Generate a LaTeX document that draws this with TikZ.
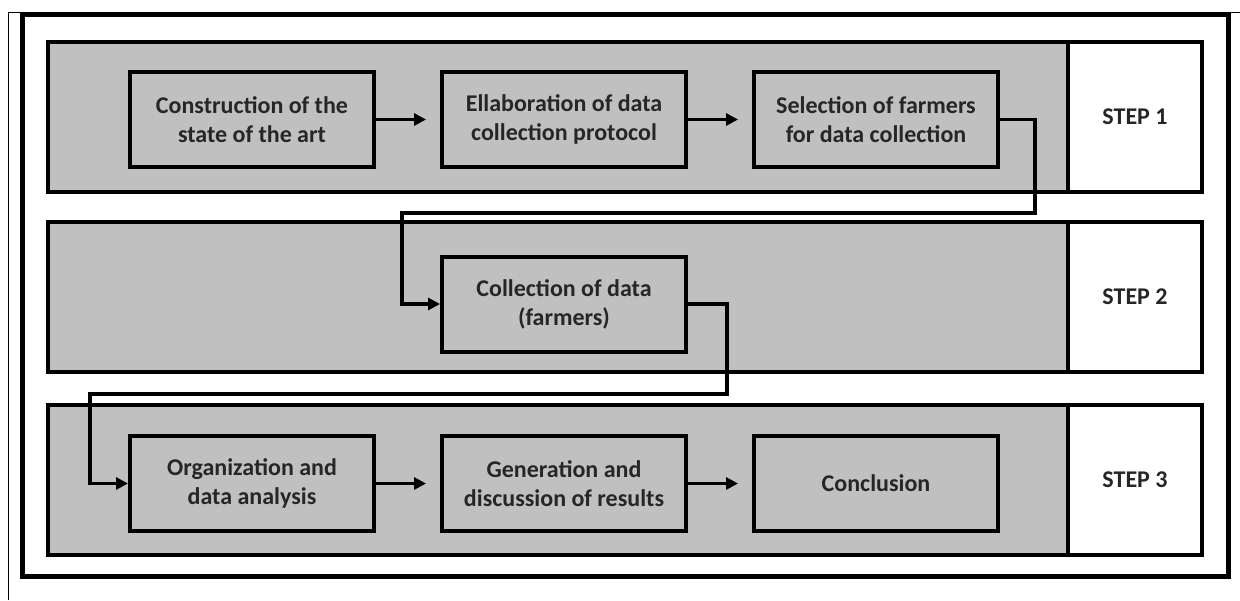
\documentclass[tikz,border=0pt]{standalone}
\usepackage{fontspec}
\setmainfont{Carlito}
\usetikzlibrary{arrows.meta}
\definecolor{bandgray}{RGB}{192,192,192}
\definecolor{txtgray}{RGB}{38,38,38}
\begin{document}
\begin{tikzpicture}[
        x=0.5pt, y=-0.5pt,
        band/.style={draw, line width=2pt, fill=bandgray, minimum width=510pt, minimum height=75pt, inner sep=0pt},
        stepbox/.style={draw, line width=2pt, fill=white, minimum width=67pt, minimum height=75pt, inner sep=0pt, text=txtgray, font=\bfseries\fontsize{12}{14.5}\selectfont},
        task/.style={draw, line width=2pt, fill=bandgray, minimum width=122pt, minimum height=47.5pt, inner sep=0pt, align=center, text=txtgray, font=\bfseries\fontsize{12}{14.5}\selectfont},
        link/.style={line width=1.75pt, -{Triangle[length=6pt,width=6pt]}},
        next/.style={link, shorten >=7pt}
    ]
    \useasboundingbox (0,0) rectangle (1240,600);
    % page borders and frame
    \draw[line width=0.5pt] (8,600) -- (8,12) -- (1240,12);
    \draw[line width=2.5pt] (22,14) rectangle (1228,576);
    % the three steps
    \node[band] (band1) at (558,117) {};
    \node[band] (band2) at (558,297) {};
    \node[band] (band3) at (558,480) {};
    \node[stepbox] (step1) at (1135,117) {STEP 1};
    \node[stepbox] (step2) at (1135,297) {STEP 2};
    \node[stepbox] (step3) at (1135,480) {STEP 3};
    % tasks
    \node[task] (art) at (252,119.5) {Construction of the\\state of the art};
    \node[task] (protocol) at (564,119.5) {Ellaboration of data\\collection protocol};
    \node[task] (farmers) at (876,119.5) {Selection of farmers\\for data collection};
    \node[task] (collect) at (564,304) {Collection of data\\(farmers)};
    \node[task] (analysis) at (252,483.5) {Organization and\\data analysis};
    \node[task] (results) at (564,483.5) {Generation and\\discussion of results};
    \node[task] (concl) at (876,483.5) {Conclusion};
    % connectors
    \draw[next] (art) -- (protocol);
    \draw[next] (protocol) -- (farmers);
    \draw[link] (farmers.east) -| (1035,213) -| (402,304) -- (collect.west);
    \draw[link] (collect.east) -| (727,394) -| (90,483.5) -- (analysis.west);
    \draw[next] (analysis) -- (results);
    \draw[next] (results) -- (concl);
\end{tikzpicture}
\end{document}
